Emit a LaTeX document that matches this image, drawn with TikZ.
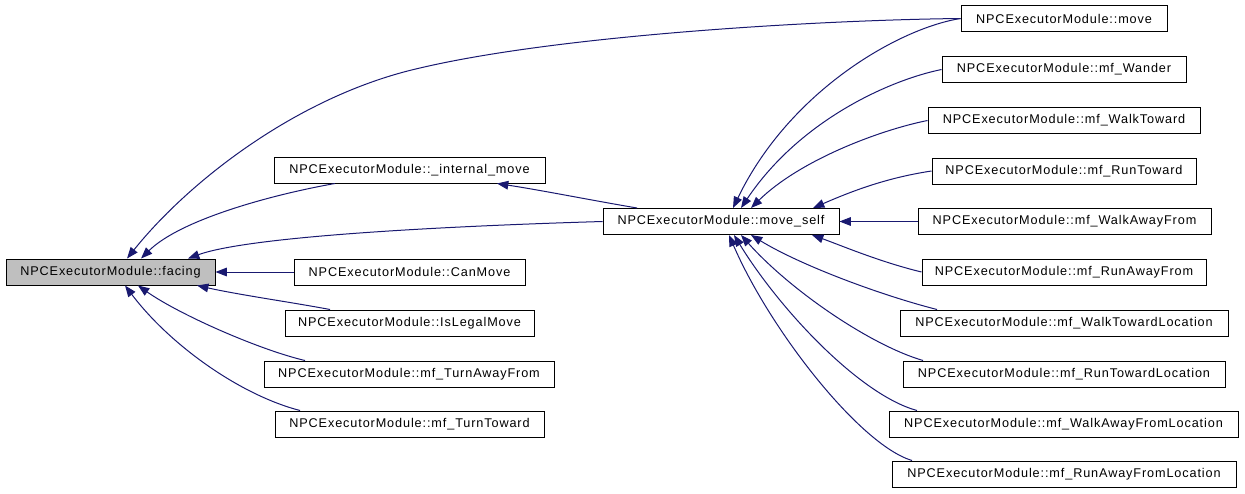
\documentclass[tikz,border=0pt]{standalone}
\usepackage{fontspec}
\newfontfamily\dxfont{Liberation Sans}[LetterSpace=7]
\usepackage{tikz}
\usetikzlibrary{arrows.meta}
\definecolor{edgeblue}{RGB}{25,25,112}
\definecolor{cursel}{RGB}{191,191,191}

\begin{document}
\begin{tikzpicture}[x=0.75pt,y=0.75pt,yscale=-1,xscale=1,
  fn/.style={draw, line width=0.75pt, minimum height=19.5pt, inner sep=0pt, font=\dxfont\fontsize{9.5}{11}\selectfont},
  call/.style={draw=edgeblue, line width=0.75pt, -{Triangle[length=8.5pt,width=6.5pt]}}]
\useasboundingbox (0,0) rectangle (1245,493);

% Text Node
\node [fn, fill=cursel, minimum width=156.75pt] (facing) at (110.5,272) {NPCExecutorModule::facing};
% Text Node
\node [fn, minimum width=203.25pt] (intmove) at (409.5,170) {NPCExecutorModule::\_internal\_move};
\node [fn, minimum width=173.25pt] (canmove) at (409.5,272) {NPCExecutorModule::CanMove};
\node [fn, minimum width=186.75pt] (legal) at (409.5,323) {NPCExecutorModule::IsLegalMove};
\node [fn, minimum width=217.5pt] (turnaway) at (409,374) {NPCExecutorModule::mf\_TurnAwayFrom};
\node [fn, minimum width=201.75pt] (turnto) at (409.5,424) {NPCExecutorModule::mf\_TurnToward};
% Text Node
\node [fn, minimum width=177pt] (moveself) at (721,221.5) {NPCExecutorModule::move\_self};
% Text Node
\node [fn, minimum width=154.5pt] (move) at (1064,18.5) {NPCExecutorModule::move};
\node [fn, minimum width=183pt] (wander) at (1064,69.5) {NPCExecutorModule::mf\_Wander};
\node [fn, minimum width=204pt] (walkto) at (1064,120.5) {NPCExecutorModule::mf\_WalkToward};
\node [fn, minimum width=198pt] (runto) at (1064,171) {NPCExecutorModule::mf\_RunToward};
\node [fn, minimum width=219.75pt] (walkaway) at (1064.5,221.5) {NPCExecutorModule::mf\_WalkAwayFrom};
\node [fn, minimum width=213pt] (runaway) at (1064,272) {NPCExecutorModule::mf\_RunAwayFrom};
\node [fn, minimum width=246pt] (walktoloc) at (1064,323) {NPCExecutorModule::mf\_WalkTowardLocation};
\node [fn, minimum width=241.5pt] (runtoloc) at (1064,374) {NPCExecutorModule::mf\_RunTowardLocation};
\node [fn, minimum width=261.75pt] (walkawayloc) at (1063.5,424) {NPCExecutorModule::mf\_WalkAwayFromLocation};
\node [fn, minimum width=258pt] (runawayloc) at (1064,474) {NPCExecutorModule::mf\_RunAwayFromLocation};

%Curve Lines
\draw [call] (move.west) .. controls (820,20) and (560,35) .. (420,68) .. controls (300,95) and (190,180) .. ([xshift=12.4pt]facing.north) ;
%Curve Lines
\draw [call] ([xshift=-55.9pt]intmove.south) .. controls (270,195) and (180,220) .. ([xshift=22.9pt]facing.north) ;
%Curve Lines
\draw [call] (moveself.west) .. controls (450,226) and (250,236) .. ([xshift=58.1pt]facing.north) ;
%Straight Lines
\draw [call] (canmove.west) -- (facing.east) ;
%Curve Lines
\draw [call] ([xshift=-59.6pt]legal.north) .. controls (290,302) and (240,295) .. ([xshift=64.9pt]facing.south) ;
%Curve Lines
\draw [call] ([xshift=-78pt]turnaway.north) .. controls (260,350) and (180,315) .. ([xshift=20.6pt]facing.south) ;
%Curve Lines
\draw [call] ([xshift=-82.1pt]turnto.north) .. controls (240,395) and (170,345) .. ([xshift=10.9pt]facing.south) ;
%Curve Lines
\draw [call] ([xshift=-63pt]moveself.north) .. controls (590,200) and (540,190) .. ([xshift=65.6pt]intmove.south) ;

%Curve Lines
\draw [call] (move.west) .. controls (900,28) and (790,90) .. ([xshift=9pt]moveself.north) ;
%Curve Lines
\draw [call] (wander.west) .. controls (890,80) and (800,120) .. ([xshift=15pt]moveself.north) ;
%Curve Lines
\draw [call] (walkto.west) .. controls (880,130) and (800,160) .. ([xshift=22.5pt]moveself.north) ;
%Curve Lines
\draw [call] (runto.west) .. controls (885,178) and (850,192) .. ([xshift=69pt]moveself.north) ;
%Straight Lines
\draw [call] (walkaway.west) -- (moveself.east) ;
%Curve Lines
\draw [call] (runaway.west) .. controls (880,262) and (840,245) .. ([xshift=68.25pt]moveself.south) ;
%Curve Lines
\draw [call] ([xshift=-95.25pt]walktoloc.north) .. controls (880,295) and (800,265) .. ([xshift=22.5pt]moveself.south) ;
%Curve Lines
\draw [call] ([xshift=-105.75pt]runtoloc.north) .. controls (870,345) and (790,290) .. ([xshift=15pt]moveself.south) ;
%Curve Lines
\draw [call] ([xshift=-109.9pt]walkawayloc.north) .. controls (860,395) and (780,310) .. ([xshift=9.75pt]moveself.south) ;
%Curve Lines
\draw [call] ([xshift=-114pt]runawayloc.north) .. controls (860,445) and (770,330) .. ([xshift=6pt]moveself.south) ;

\end{tikzpicture}
\end{document}
